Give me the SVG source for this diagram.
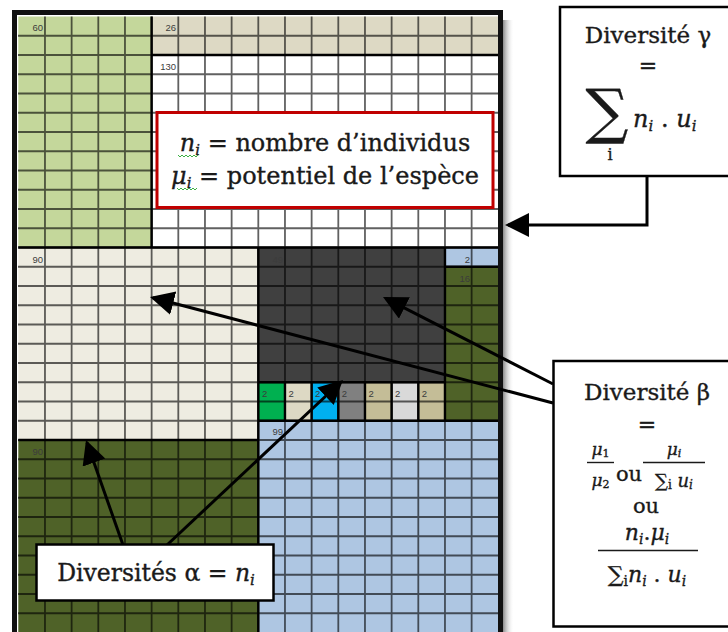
<svg xmlns="http://www.w3.org/2000/svg" width="728" height="632" viewBox="0 0 728 632">
<defs>
<style>
.num{font-family:"Liberation Sans",Arial,sans-serif;font-size:9.5px;fill:#3c3c3c}
.t{font-family:"DejaVu Serif","Liberation Serif",serif;fill:#1a1a1a;stroke:#1a1a1a;stroke-width:0.35}
.it{font-style:italic}
.conn{stroke:#000;stroke-width:3;fill:none;marker-end:url(#ah)}
.box{fill:#fff;stroke:#000;stroke-width:2.5}
.blk{stroke:#000;stroke-width:2.4;fill:none}
</style>
<marker id="ah" markerUnits="userSpaceOnUse" markerWidth="26" markerHeight="26" refX="21" refY="12" orient="auto"><path d="M0,0 L24,12 L0,24 z" fill="#000"/></marker>
<linearGradient id="sh" x1="0" x2="1" y1="0" y2="0"><stop offset="0" stop-color="#8a8a8a"/><stop offset="1" stop-color="#fff" stop-opacity="0"/></linearGradient>
</defs>
<rect width="728" height="632" fill="#fff"/>
<g id="grid">
<rect x="503" y="20" width="11" height="620" fill="url(#sh)"/>
<rect id="b60" x="18.3" y="16.5" width="133.33" height="231" fill="#c4d79b"/>
<rect id="b26" x="151.63" y="16.5" width="346.67" height="38.5" fill="#ddd9c4"/>
<rect id="b130" x="151.63" y="55" width="346.67" height="192.5" fill="#fff"/>
<rect id="b90a" x="18.3" y="247.5" width="240" height="192.5" fill="#eeece1"/>
<rect id="b90b" x="18.3" y="440" width="240" height="192.5" fill="#4f6228"/>
<rect id="b49" x="258.3" y="247.5" width="186.67" height="134.75" fill="#404040"/>
<rect id="b2" x="444.97" y="247.5" width="53.33" height="19.25" fill="#aec6e2"/>
<rect id="b16" x="444.97" y="266.75" width="53.33" height="154" fill="#4f6228"/>
<rect x="258.3" y="382.25" width="26.67" height="38.5" fill="#00b050"/>
<rect x="284.97" y="382.25" width="26.67" height="38.5" fill="#ddd9c4"/>
<rect x="311.63" y="382.25" width="26.67" height="38.5" fill="#00b0f0"/>
<rect x="338.3" y="382.25" width="26.67" height="38.5" fill="#808080"/>
<rect x="364.97" y="382.25" width="26.67" height="38.5" fill="#c4bd97"/>
<rect x="391.63" y="382.25" width="26.67" height="38.5" fill="#d9d9d9"/>
<rect x="418.3" y="382.25" width="26.67" height="38.5" fill="#c4bd97"/>
<rect id="b99" x="258.3" y="420.75" width="240" height="211.75" fill="#aec6e2"/>
<path stroke="#000" stroke-opacity="0.62" stroke-width="1.8" fill="none" d="M44.97,16.5V632 M71.63,16.5V632 M98.3,16.5V632 M124.97,16.5V632 M151.63,16.5V632 M178.3,16.5V632 M204.97,16.5V632 M231.63,16.5V632 M258.3,16.5V632 M284.97,16.5V632 M311.63,16.5V632 M338.3,16.5V632 M364.97,16.5V632 M391.63,16.5V632 M418.3,16.5V632 M444.97,16.5V632 M471.63,16.5V632 M18,35.75H498 M18,55H498 M18,74.25H498 M18,93.5H498 M18,112.75H498 M18,132H498 M18,151.25H498 M18,170.5H498 M18,189.75H498 M18,209H498 M18,228.25H498 M18,247.5H498 M18,266.75H498 M18,286H498 M18,305.25H498 M18,324.5H498 M18,343.75H498 M18,363H498 M18,382.25H498 M18,401.5H498 M18,420.75H498 M18,440H498 M18,459.25H498 M18,478.5H498 M18,497.75H498 M18,517H498 M18,536.25H498 M18,555.5H498 M18,574.75H498 M18,594H498 M18,613.25H498"/>
<path class="blk" d="M151.63,16.5V247.5 M151.63,55H498.3 M18.3,247.5H498.3 M258.3,247.5V632 M18.3,440H258.3 M444.97,247.5V420.75 M258.3,382.25H444.97 M258.3,420.75H498.3 M444.97,266.75H498.3 M284.97,382.25V420.75 M311.63,382.25V420.75 M338.3,382.25V420.75 M364.97,382.25V420.75 M391.63,382.25V420.75 M418.3,382.25V420.75"/>
<text class="num" x="43" y="31" text-anchor="end">60</text>
<text class="num" x="176" y="31" text-anchor="end">26</text>
<text class="num" x="176" y="70" text-anchor="end">130</text>
<text class="num" x="43" y="262.5" text-anchor="end">90</text>
<text class="num" x="283" y="262.5" text-anchor="end">49</text>
<text class="num" x="470" y="262.5" text-anchor="end">2</text>
<text class="num" x="470" y="282" text-anchor="end">16</text>
<text class="num" x="262" y="397">2</text>
<text class="num" x="288.5" y="397">2</text>
<text class="num" x="315" y="397">2</text>
<text class="num" x="341.8" y="397">2</text>
<text class="num" x="368.5" y="397">2</text>
<text class="num" x="395" y="397">2</text>
<text class="num" x="421.8" y="397">2</text>
<text class="num" x="283" y="435" text-anchor="end">99</text>
<text class="num" x="43" y="454.5" text-anchor="end">90</text>
<rect x="14.5" y="12.5" width="486" height="640" fill="none" stroke="#111" stroke-width="5"/>
</g>
<g id="legend">
<rect x="157" y="112.5" width="336" height="95" fill="#fff" stroke="#c00000" stroke-width="3"/>
<text class="t" x="325" y="151" font-size="24" text-anchor="middle"><tspan class="it">n</tspan><tspan font-size="15" dy="4" class="it">i</tspan><tspan dy="-4"> = nombre d’individus</tspan></text>
<text class="t" x="325" y="183.5" font-size="24" text-anchor="middle"><tspan class="it">μ</tspan><tspan font-size="15" dy="4" class="it">i</tspan><tspan dy="-4"> = potentiel de l’espèce</tspan></text>
<path d="M178,155 l2,2 l2,-2 l2,2 l2,-2 l2,2 l2,-2 l2,2 l2,-2 l2,2 l2,-2" stroke="#3cb043" stroke-width="1" fill="none"/>
<path d="M177,188 l2,2 l2,-2 l2,2 l2,-2 l2,2 l2,-2 l2,2 l2,-2 l2,2 l2,-2" stroke="#3cb043" stroke-width="1" fill="none"/>
</g>
<g id="connectors">
<path class="conn" d="M647,176 V225 H508"/>
<path class="conn" d="M553,403 L152.9,297.8"/>
<path class="conn" d="M553,384 L385.7,298.4"/>
<path class="conn" d="M123,545 L87,442.8"/>
<path class="conn" d="M167,545 L340.8,382"/>
</g>
<g id="gamma">
<rect class="box" x="560" y="7" width="185" height="169"/>
<text class="t" x="648" y="43" font-size="23" text-anchor="middle">Diversité γ</text>
<text class="t" x="648" y="73" font-size="22" text-anchor="middle">=</text>
<text class="t" x="607" y="132" font-size="60" text-anchor="middle" stroke-width="1">∑</text>
<text class="t" x="610" y="160" font-size="16" text-anchor="middle">i</text>
<text class="t it" x="633" y="127" font-size="24"><tspan>n</tspan><tspan font-size="15" dy="4">i</tspan><tspan dy="-4" font-style="normal"> . </tspan><tspan>u</tspan><tspan font-size="15" dy="4">i</tspan></text>
</g>
<g id="beta">
<rect class="box" x="553.5" y="361" width="190" height="265.5"/>
<text class="t" x="647" y="400" font-size="23" text-anchor="middle">Diversité β</text>
<text class="t" x="647" y="432" font-size="22" text-anchor="middle">=</text>
<text class="t it" x="600.5" y="455" font-size="17" text-anchor="middle"><tspan>μ</tspan><tspan font-size="11" dy="2" font-style="normal">1</tspan></text>
<path d="M587,462.5 H614" stroke="#1a1a1a" stroke-width="1.4"/>
<text class="t it" x="600.5" y="486" font-size="17" text-anchor="middle"><tspan>μ</tspan><tspan font-size="11" dy="2" font-style="normal">2</tspan></text>
<text class="t" x="629" y="481" font-size="21" text-anchor="middle">ou</text>
<text class="t it" x="674" y="455" font-size="17" text-anchor="middle"><tspan>μ</tspan><tspan font-size="11" dy="2">i</tspan></text>
<path d="M643,462.5 H705" stroke="#1a1a1a" stroke-width="1.4"/>
<text class="t" x="674" y="487" font-size="18" text-anchor="middle"><tspan>∑</tspan><tspan font-size="12" dy="2">i</tspan><tspan dy="-2" class="it"> u</tspan><tspan font-size="12" dy="2" class="it">i</tspan></text>
<text class="t" x="646" y="513" font-size="21" text-anchor="middle">ou</text>
<text class="t it" x="647" y="540" font-size="22" text-anchor="middle"><tspan>n</tspan><tspan font-size="14" dy="4">i</tspan><tspan dy="-4" font-style="normal">.</tspan><tspan>μ</tspan><tspan font-size="14" dy="4">i</tspan></text>
<path d="M598,550.5 H698" stroke="#1a1a1a" stroke-width="1.5"/>
<text class="t" x="647" y="582" font-size="22" text-anchor="middle"><tspan>∑</tspan><tspan font-size="14" dy="4">i</tspan><tspan dy="-4" class="it">n</tspan><tspan font-size="14" dy="4" class="it">i</tspan><tspan dy="-4"> . </tspan><tspan class="it">u</tspan><tspan font-size="14" dy="4" class="it">i</tspan></text>
</g>
<g id="alpha">
<rect class="box" x="36.5" y="544.5" width="237" height="56"/>
<text class="t" x="156" y="581" font-size="23.5" text-anchor="middle">Diversités α = <tspan class="it">n</tspan><tspan font-size="15" dy="4" class="it">i</tspan></text>
</g>
</svg>
